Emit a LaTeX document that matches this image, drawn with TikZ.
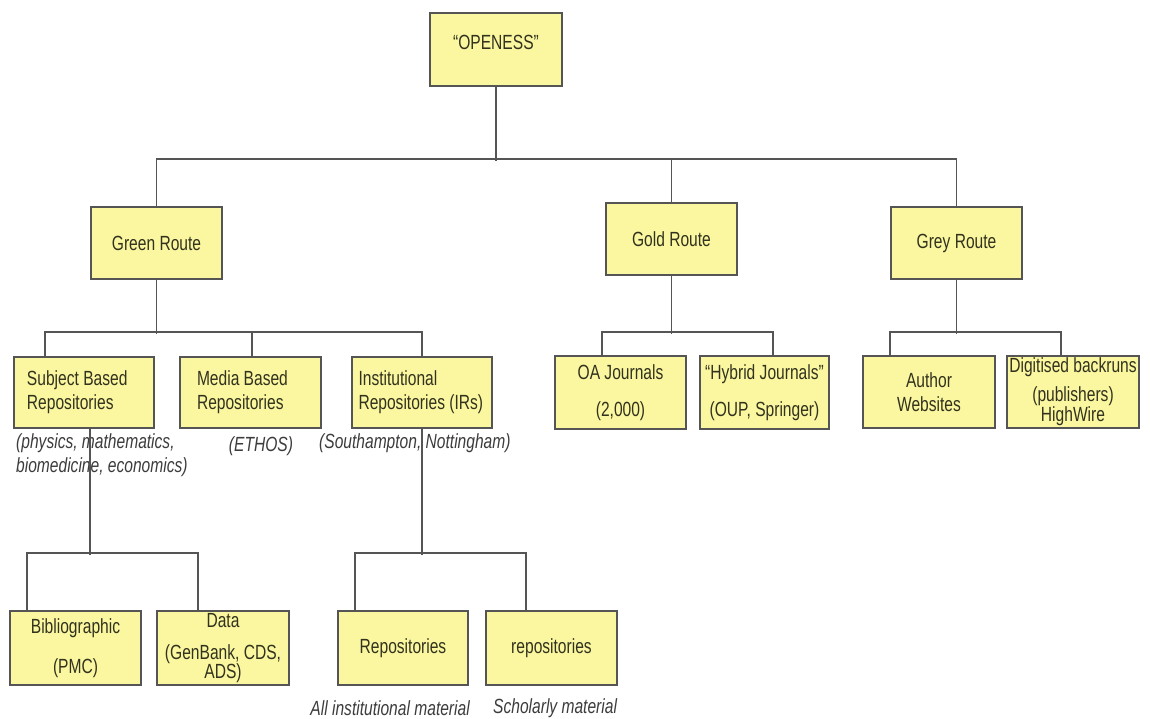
\documentclass[tikz,border=0pt]{standalone}
\usepackage{fontspec}
\setmainfont{Liberation Sans}[FakeStretch=0.76]
\usetikzlibrary{calc}
\definecolor{boxy}{RGB}{250,247,160}
\definecolor{linec}{RGB}{85,85,85}
\definecolor{txtc}{RGB}{50,50,30}
\definecolor{notec}{RGB}{60,60,60}
\tikzset{
  box/.style={draw=linec, line width=1.8pt, fill=boxy, text=txtc, inner sep=0pt,
    align=center, font=\fontsize{20.5}{24}\selectfont},
  lbox/.style={box, align=flush left, text width=#1},
  note/.style={text=notec, inner sep=0pt, font=\fontsize{20.5}{24}\selectfont\itshape},
  conn/.style={draw=linec, line width=1.8pt},
}
\begin{document}
\begin{tikzpicture}[x=1pt,y=-1pt]
\useasboundingbox (0,0) rectangle (1150,719);
% level 0
\node[box, minimum width=132pt, minimum height=73pt, text depth=15pt] (open) at (496,49.5) {“OPENESS”};
% level 1
\node[box, minimum width=131pt, minimum height=72pt] (green) at (156.5,243) {Green Route};
\node[box, minimum width=131pt, minimum height=72pt] (gold) at (671.5,239) {Gold Route};
\node[box, minimum width=131pt, minimum height=72pt] (grey) at (956.5,243) {Grey Route};
% level 2
\node[lbox=114pt, minimum width=140pt, minimum height=71pt] (subj) at (84,392.5) {Subject Based\\Repositories};
\node[lbox=107pt, minimum width=141pt, minimum height=71pt] (media) at (250.5,392.5) {Media Based\\Repositories};
\node[lbox=131pt, minimum width=140pt, minimum height=71pt] (inst) at (422,392.5) {\hspace*{2pt}Institutional\\\hspace*{2pt}Repositories (IRs)};
\node[box, minimum width=131pt, minimum height=73pt] (oa) at (620.5,392.5) {OA Journals\\[13pt](2,000)};
\node[box, minimum width=129pt, minimum height=73pt] (hyb) at (764.5,392.5) {“Hybrid Journals”\\[13pt](OUP, Springer)};
\node[box, minimum width=132pt, minimum height=72pt] (auth) at (929,392) {Author\\Websites};
\node[box, minimum width=132pt, minimum height=72pt] (digi) at (1073,392) {Digitised backruns\\[5pt](publishers)\\[-4pt]HighWire};
% notes level 2
\node[note, anchor=west, align=flush left] (phys) at (16,455) {(physics, mathematics,\\biomedicine, economics)};
\node[note] (ethos) at (261,446) {(ETHOS)};
\node[note, anchor=west] (south) at (319,443) {(Southampton, Nottingham)};
% level 3
\node[box, minimum width=131pt, minimum height=74pt] (bib) at (75.5,648) {Bibliographic\\[16pt](PMC)};
\node[box, minimum width=132pt, minimum height=74pt] (data) at (223,648) {Data\\[8pt](GenBank, CDS,\\[-5pt]ADS)};
\node[box, minimum width=130pt, minimum height=74pt] (repa) at (403,648) {Repositories};
\node[box, minimum width=131pt, minimum height=74pt] (repb) at (551.5,648) {repositories};
\node[note, anchor=east] (alli) at (470,708) {All institutional material};
\node[note, anchor=west] (schol) at (493,708) {Scholarly material};
% connectors
\draw[conn] (open.south) -- ++(0,74);
\draw[conn] (green.north) -- ++(0,-47) -| (grey.north);
\draw[conn] (gold.north) -- ++(0,-43);
\draw[conn] (green.south) -- ++(0,54);
\draw[conn] ($(subj.north west)+(32,0)$) -- ++(0,-24) -| ($(inst.north west)+(71,0)$);
\draw[conn] ($(media.north west)+(73,0)$) -- ++(0,-24);
\draw[conn] (gold.south) -- ++(0,58);
\draw[conn] ($(oa.north west)+(48,0)$) -- ++(0,-23) -| ($(hyb.north west)+(74,0)$);
\draw[conn] (grey.south) -- ++(0,54);
\draw[conn] ($(auth.north west)+(28,0)$) -- ++(0,-23) -| ($(digi.north west)+(55,0)$);
\draw[conn] ($(subj.south west)+(77,0)$) -- ++(0,126);
\draw[conn] ($(bib.north west)+(18,0)$) -- ++(0,-57) -| ($(data.north west)+(42,0)$);
\draw[conn] ($(inst.south west)+(71,0)$) -- ++(0,126);
\draw[conn] ($(repa.north west)+(18,0)$) -- ++(0,-57) -| ($(repb.north west)+(41,0)$);
\end{tikzpicture}
\end{document}
